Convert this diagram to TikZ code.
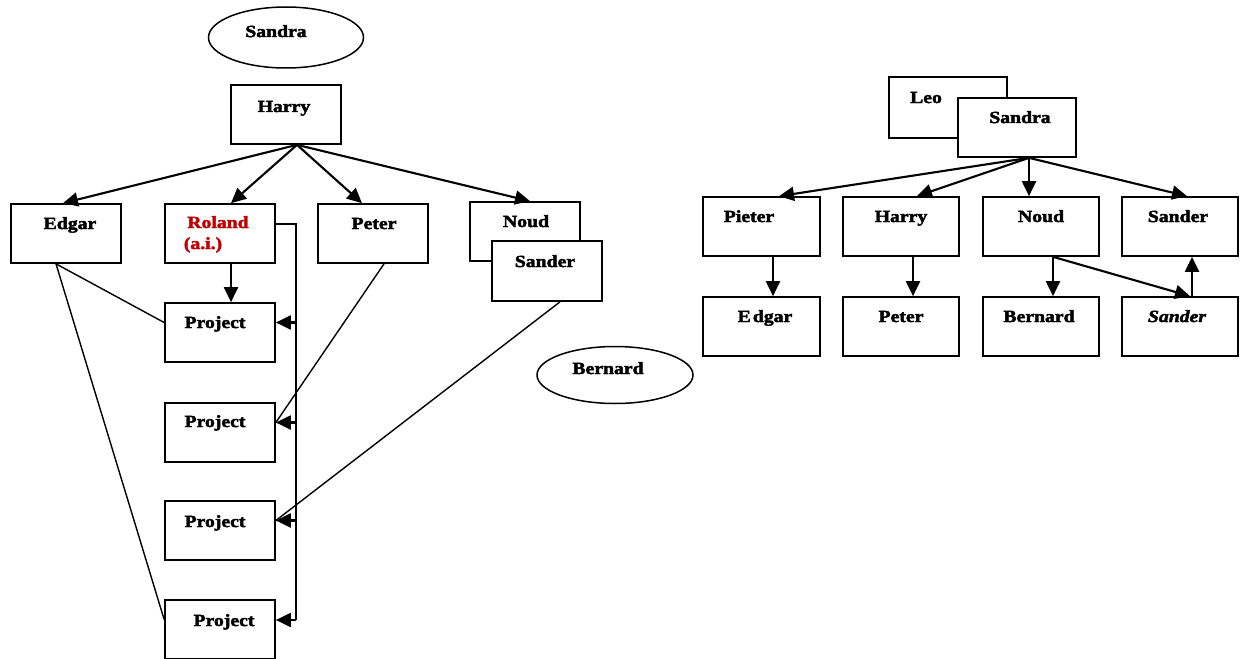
\documentclass[tikz,border=0pt]{standalone}
\usepackage{fontspec}
\setmainfont{Liberation Serif}[FakeStretch=1.16, BoldFeatures={FakeBold=2.5}, BoldItalicFeatures={FakeBold=2.5}]
\usetikzlibrary{arrows.meta,shapes.geometric}
\definecolor{rolandred}{RGB}{192,0,0}
\begin{document}
\begin{tikzpicture}[x=1pt,y=-1pt,
  box/.style={draw, line width=1.7pt, fill=white, inner sep=0pt, minimum width=110pt, minimum height=59pt},
  rbox/.style={box, minimum width=116pt},
  oval/.style={draw, ellipse, line width=1.5pt, inner sep=0pt},
  lbl/.style={anchor=base, inner sep=0pt, font=\fontsize{17}{20}\selectfont\bfseries},
  arr/.style={line width=2.1pt, -{Triangle[length=15pt,width=14pt]}},
  ln/.style={line width=1.4pt}]
\clip (0,0) rectangle (1241,658);
\fill[white] (0,0) rectangle (1241,658);

% ---------- left diagram ----------
\node[oval, minimum width=155pt, minimum height=61pt] (sandraE) at (286,37.5) {};
\node[lbl] (tsandraE) at (276,37) {Sandra};

\node[box] (harry) at (286,114.5) {};
\node[lbl] (tharry) at (284,112) {Harry};

\node[box] (edgar) at (66,233.5) {};
\node[lbl] (tedgar) at (70,229) {Edgar};

\node[box] (roland) at (220,233.5) {};
\node[lbl, text=rolandred] (troland) at (218,228) {Roland};
\node[lbl, text=rolandred] (tai) at (203,249) {(a.i.)};

\node[box] (peter) at (373,233.5) {};
\node[lbl] (tpeter) at (374,229) {Peter};

\node[box] (noud) at (525,231.5) {};
\node[lbl] (tnoud) at (526,227) {Noud};

\node[box, minimum height=60pt] (sander) at (547,271) {};
\node[lbl] (tsander) at (545,267) {Sander};

\node[box] (p1) at (220,332.5) {};
\node[lbl] (tp1) at (215,328) {Project};
\node[box] (p2) at (220,432.5) {};
\node[lbl] (tp2) at (215,427) {Project};
\node[box] (p3) at (220,530.5) {};
\node[lbl] (tp3) at (215,527) {Project};
\node[box] (p4) at (220,629.5) {};
\node[lbl] (tp4) at (224,626) {Project};

\node[oval, minimum width=156pt, minimum height=57pt] (bernardE) at (615,375) {};
\node[lbl] (tbernardE) at (608,374) {Bernard};

% connectors left
\draw[arr] ([xshift=11pt]harry.south) -- ([xshift=-3pt]edgar.north);
\draw[arr] ([xshift=11pt]harry.south) -- ([xshift=11pt]roland.north);
\draw[arr] ([xshift=11pt]harry.south) -- ([xshift=-11pt]peter.north);
\draw[arr] ([xshift=11pt]harry.south) -- ([xshift=5pt]noud.north);
\draw[arr] ([xshift=11pt]roland.south) -- ([xshift=11pt]p1.north);

\coordinate (bt) at (296,224);
\coordinate (b1) at (296,322.5);
\coordinate (b2) at (296,422.5);
\coordinate (b3) at (296,520.5);
\coordinate (b4) at (296,620);
\draw[line width=1.7pt] ([yshift=9.5pt]roland.east) -- (bt) -- (b4);
\draw[arr] (b1) -- ([yshift=10pt]p1.east);
\draw[arr] (b2) -- ([yshift=10pt]p2.east);
\draw[arr] (b3) -- ([yshift=10pt]p3.east);
\draw[arr] (b4) -- ([yshift=9.5pt]p4.east);

\draw[ln] ([xshift=-10pt]edgar.south) -- ([yshift=10pt]p1.west);
\draw[ln] ([xshift=-10pt]edgar.south) -- ([yshift=10pt]p4.west);
\draw[ln] ([xshift=11pt]peter.south) -- ([yshift=10pt]p2.east);
\draw[ln] ([xshift=13pt]sander.south) -- ([yshift=10pt]p3.east);

% ---------- right diagram ----------
\node[box, minimum width=118pt, minimum height=61pt] (leo) at (948,107.5) {};
\node[lbl] (tleo) at (926,103) {Leo};
\node[box, minimum width=118pt] (sandraB) at (1017,127.5) {};
\node[lbl] (tsandraB) at (1020,123) {Sandra};

\node[rbox, minimum width=117pt] (pieter) at (761.5,226.5) {};
\node[lbl] (tpieter) at (749,222) {Pieter};
\node[rbox] (harryR) at (901,226.5) {};
\node[lbl] (tharryR) at (901,222) {Harry};
\node[rbox] (noudR) at (1041,226.5) {};
\node[lbl] (tnoudR) at (1041,222) {Noud};
\node[rbox] (sanderR) at (1180,226.5) {};
\node[lbl] (tsanderR) at (1178,222) {Sander};

\node[rbox, minimum width=117pt] (edgarR) at (761.5,326.5) {};
\node[lbl] (tedgarR) at (765,322) {E\kern2pt dgar};
\node[rbox] (peterR) at (901,326.5) {};
\node[lbl] (tpeterR) at (901,322) {Peter};
\node[rbox] (bernardR) at (1041,326.5) {};
\node[lbl] (tbernardR) at (1039,322) {Bernard};
\node[rbox] (sanderI) at (1180,326.5) {};
\node[lbl, font=\fontsize{17}{20}\selectfont\bfseries\itshape] (tsanderI) at (1177,322) {Sander};

% connectors right
\draw[arr] ([xshift=12pt]sandraB.south) -- ([xshift=17.5pt]pieter.north);
\draw[arr] ([xshift=12pt]sandraB.south) -- ([xshift=16pt]harryR.north);
\draw[arr] ([xshift=12pt]sandraB.south) -- ([xshift=-12pt]noudR.north);
\draw[arr] ([xshift=12pt]sandraB.south) -- ([xshift=7pt]sanderR.north);
\draw[arr] ([xshift=11.5pt]pieter.south) -- ([xshift=11.5pt]edgarR.north);
\draw[arr] ([xshift=12pt]harryR.south) -- ([xshift=12pt]peterR.north);
\draw[arr] ([xshift=12pt]noudR.south) -- ([xshift=12pt]bernardR.north);
\draw[arr] ([xshift=12pt]noudR.south) -- ([xshift=10pt]sanderI.north);
\draw[arr] ([xshift=12pt]sanderI.north) -- ([xshift=12pt]sanderR.south);
\end{tikzpicture}
\end{document}
